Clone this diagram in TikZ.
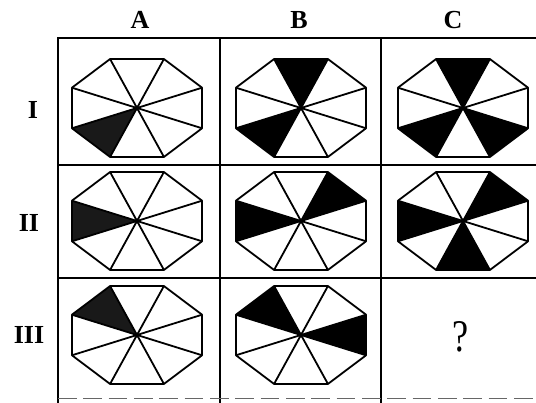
\documentclass[tikz,border=0pt]{standalone}
\usepackage{fontspec}
\setmainfont{Liberation Serif}

% one octagon of the puzzle: centre x, centre y, fill style, filled sectors
\newcommand{\puzzleoct}[4]{%
  \begin{scope}[shift={(#1,#2)}, xscale=70.4, yscale=53.0]
    \foreach \a in {#4} {\fill[#3] (0,0) -- (\a-22.5:1) -- (\a+22.5:1) -- cycle;}
    \draw[octline] (22.5:1) -- (67.5:1) -- (112.5:1) -- (157.5:1) -- (202.5:1) -- (247.5:1) -- (292.5:1) -- (337.5:1) -- cycle;
    \foreach \k in {0,...,7} {\draw[octline] (0,0) -- (22.5+45*\k:1);}
  \end{scope}}

\begin{document}
\begin{tikzpicture}[
    x=0.75pt, y=0.75pt,
    grid/.style={draw=black, line width=1.5pt},
    octline/.style={draw=black, line width=1.35pt, line join=round},
    dark/.style={fill=black},
    speckled/.style={fill=black!90},
    head/.style={font=\fontsize{19.5}{22}\selectfont\bfseries, inner sep=0pt},
    quest/.style={font=\fontsize{34}{38}\selectfont, inner sep=0pt, xscale=0.8}
]
\useasboundingbox (0,0) rectangle (536,403);

% ==================== Grid ====================
\draw[grid] (58,0) -- (58,365) -- (536,365);
\draw[grid] (220,0) -- (220,365);
\draw[grid] (381,0) -- (381,365);
\draw[grid] (58,238) -- (536,238);
\draw[grid] (58,125) -- (536,125);
\draw[draw=black!60, line width=0.6pt, dash pattern=on 14pt off 5pt] (58,5) -- (536,5);

% ==================== Headings ====================
\node[head] (colA) at (140,383) {A};
\node[head] (colB) at (299,383) {B};
\node[head] (colC) at (453,383) {C};
\node[head] (rowI) at (33,293) {I};
\node[head] (rowII) at (29,180) {II};
\node[head] (rowIII) at (29,68) {III};

% ==================== Row I ====================
\puzzleoct{137}{295}{speckled}{225}
\puzzleoct{301}{295}{dark}{90,225}
\puzzleoct{463}{295}{dark}{90,225,315}

% ==================== Row II ====================
\puzzleoct{137}{182}{speckled}{180}
\puzzleoct{301}{182}{dark}{180,45}
\puzzleoct{463}{182}{dark}{180,45,270}

% ==================== Row III ====================
\puzzleoct{137}{68}{speckled}{135}
\puzzleoct{301}{68}{dark}{135,0}
\node[quest] (missing) at (461,66) {?};

\end{tikzpicture}
\end{document}
